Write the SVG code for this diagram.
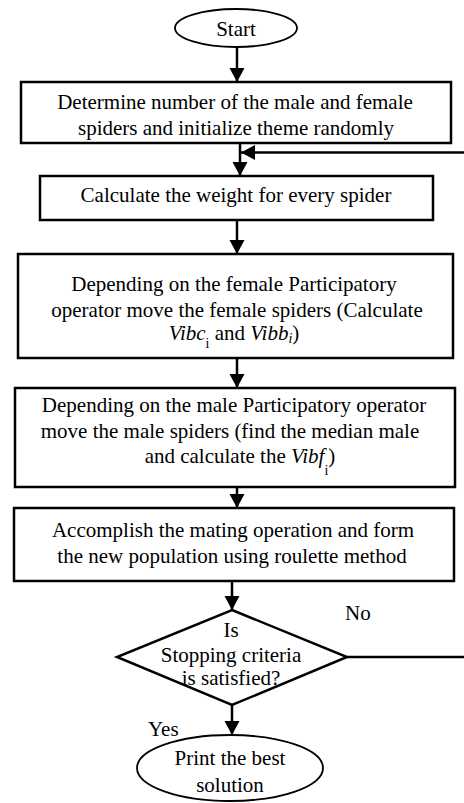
<svg xmlns="http://www.w3.org/2000/svg" width="464" height="803" viewBox="0 0 464 803">
<style>
  text { font-family: "Liberation Serif", "DejaVu Serif", serif; font-size: 21px; fill: #000; }
  .c { text-anchor: middle; }
  .box { fill: #fff; stroke: #000; stroke-width: 2.5; }
  .term { fill: #fff; stroke: #000; stroke-width: 1.8; }
  .con { fill: none; stroke: #000; stroke-width: 2.5; }
  .it { font-style: italic; }
  .sub { font-size: 14px; }
</style>
<defs>
  <marker id="ah" markerUnits="userSpaceOnUse" markerWidth="16" markerHeight="16" refX="14" refY="7.5" orient="auto">
    <path d="M0,0 L14,7.5 L0,15 z" fill="#000"/>
  </marker>
</defs>
<rect width="464" height="803" fill="#fff"/>
<g id="connectors">
  <line class="con" x1="237" y1="47" x2="237" y2="82" marker-end="url(#ah)"/>
  <line class="con" x1="240" y1="143" x2="240" y2="176" marker-end="url(#ah)"/>
  <path class="con" d="M347,657 H467 V152.5 H241" marker-end="url(#ah)"/>
  <line class="con" x1="237" y1="220" x2="237" y2="254" marker-end="url(#ah)"/>
  <line class="con" x1="237" y1="358" x2="237" y2="388" marker-end="url(#ah)"/>
  <line class="con" x1="237" y1="487" x2="237" y2="508" marker-end="url(#ah)"/>
  <line class="con" x1="232" y1="581" x2="232" y2="610" marker-end="url(#ah)"/>
  <line class="con" x1="232" y1="705" x2="232" y2="735" marker-end="url(#ah)"/>
  <text x="345" y="620">No</text>
  <text x="148" y="736">Yes</text>
</g>
<g id="start">
  <ellipse class="term" cx="236" cy="28" rx="61" ry="19"/>
  <text class="c" x="236" y="36">Start</text>
</g>
<g id="init">
  <rect class="box" x="21" y="82" width="430" height="61"/>
  <text class="c" x="235" y="109">Determine number of the male and female</text>
  <text class="c" x="236" y="135">spiders and initialize theme randomly</text>
</g>
<g id="weight">
  <rect class="box" x="40" y="176" width="393" height="44"/>
  <text class="c" x="236" y="202">Calculate the weight for every spider</text>
</g>
<g id="female">
  <rect class="box" x="18" y="254" width="435" height="104"/>
  <text class="c" x="234" y="291">Depending on the female Participatory</text>
  <text class="c" x="237" y="317">operator move the female spiders (Calculate</text>
  <text class="c" x="234" y="340"><tspan class="it">Vibc</tspan><tspan class="sub" dy="8">i</tspan><tspan dy="-8"> and </tspan><tspan class="it">Vibb</tspan><tspan class="it sub" dy="3">i</tspan><tspan dy="-3">)</tspan></text>
</g>
<g id="male">
  <rect class="box" x="15" y="388" width="440" height="99"/>
  <text class="c" x="234" y="412">Depending on the male Participatory operator</text>
  <text class="c" x="230" y="438">move the male spiders (find the median male</text>
  <text class="c" x="240" y="463">and calculate the <tspan class="it">Vibf</tspan><tspan class="sub" dy="12">i</tspan><tspan dy="-12">)</tspan></text>
</g>
<g id="mating">
  <rect class="box" x="14" y="508" width="440" height="73"/>
  <text class="c" x="233" y="537">Accomplish the mating operation and form</text>
  <text class="c" x="232" y="563">the new population using roulette method</text>
</g>
<g id="decision">
  <polygon class="box" points="232,610 347,657 232,705 117,657"/>
  <text class="c" x="231" y="637">Is</text>
  <text class="c" x="231" y="662">Stopping criteria</text>
  <text class="c" x="231" y="685">is satisfied?</text>
</g>
<g id="end">
  <ellipse class="term" cx="230" cy="768" rx="93" ry="33"/>
  <text class="c" x="230" y="765">Print the best</text>
  <text class="c" x="230" y="792">solution</text>
</g>
</svg>
